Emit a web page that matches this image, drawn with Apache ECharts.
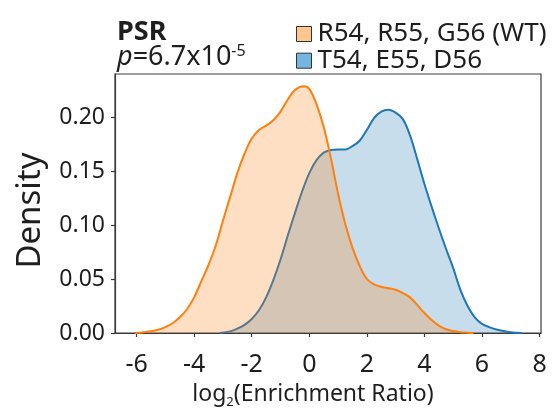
<!DOCTYPE html>
<html>
<head>
<meta charset="utf-8">
<script src="https://cdn.jsdelivr.net/npm/echarts@6/dist/echarts.min.js"></script>
<style>
  html, body { margin: 0; padding: 0; background: #ffffff; }
  #chart { width: 555px; height: 412px; }
</style>
</head>
<body>
<div id="chart"></div>
<script>
// Kernel density estimates of log2 enrichment ratios, two variant groups
const seriesNames = ['R54, R55, G56 (WT)', 'T54, E55, D56'];

const wtX = [-6.05, -5.75, -5.5, -5.25, -5.0, -4.75, -4.5, -4.25, -4.0, -3.75, -3.5, -3.25, -3.0,
  -2.75, -2.5, -2.25, -2.0, -1.75, -1.5, -1.25, -1.0, -0.75, -0.5, -0.18, 0.0, 0.25, 0.5, 0.75,
  1.0, 1.25, 1.5, 1.75, 2.0, 2.25, 2.5, 2.75, 3.0, 3.25, 3.5, 3.75, 4.0, 4.25, 4.5, 4.75, 5.0,
  5.25, 5.5, 5.7];
const wtDensity = [0.0, 0.0008, 0.0016, 0.003, 0.0055, 0.009, 0.0145, 0.022, 0.033, 0.048, 0.063,
  0.081, 0.104, 0.126, 0.148, 0.166, 0.180, 0.188, 0.192, 0.197, 0.205, 0.216, 0.225, 0.2284,
  0.226, 0.212, 0.191, 0.162, 0.129, 0.101, 0.079, 0.062, 0.050, 0.045, 0.0428, 0.0415, 0.040,
  0.037, 0.033, 0.026, 0.0185, 0.012, 0.0068, 0.0035, 0.0018, 0.0008, 0.0003, 0.0];

const mutX = [-3.1, -2.75, -2.5, -2.25, -2.0, -1.75, -1.5, -1.25, -1.0, -0.75, -0.5, -0.25, 0.0,
  0.25, 0.5, 0.75, 1.0, 1.25, 1.5, 1.75, 2.0, 2.25, 2.5, 2.75, 3.0, 3.25, 3.5, 3.75, 4.0, 4.25,
  4.5, 4.75, 5.0, 5.25, 5.5, 5.75, 6.0, 6.25, 6.5, 6.75, 7.0, 7.38];
const mutDensity = [0.0, 0.0015, 0.004, 0.0075, 0.013, 0.021, 0.033, 0.049, 0.068, 0.090, 0.111,
  0.131, 0.148, 0.160, 0.167, 0.1695, 0.170, 0.170, 0.173, 0.178, 0.188, 0.199, 0.205, 0.2068,
  0.204, 0.198, 0.183, 0.161, 0.138, 0.117, 0.097, 0.078, 0.060, 0.040, 0.025, 0.0145, 0.0085,
  0.0055, 0.0033, 0.0018, 0.0008, 0.0];

const xTicks = [-6, -4, -2, 0, 2, 4, 6, 8];
const yTicks = [0, 0.05, 0.10, 0.15, 0.20];

const FONT = 'Noto Sans';
const INK = '#1e1e1e';
const FRAME = '#3a3a3a';
const ORANGE = '#ff7f0e';
const BLUE = '#1f77b4';

const toPairs = (xs, ys) => xs.map((x, i) => [x, ys[i]]);

const chart = echarts.init(document.getElementById('chart'), null, { renderer: 'canvas' });

chart.setOption({
  animation: false,
  backgroundColor: '#ffffff',
  textStyle: { fontFamily: FONT, color: INK },
  title: [
    {
      text: 'PSR',
      left: 117, top: 19, padding: 0,
      textStyle: { fontFamily: FONT, fontWeight: 'bold', fontSize: 27, lineHeight: 26, color: INK }
    },
    {
      text: '{i|p}{n|=6.7x10}{s|-5}',
      left: 117, top: 43, padding: 0,
      textStyle: {
        fontWeight: 'normal',
        rich: {
          i: { fontFamily: FONT, fontStyle: 'italic', fontWeight: 'normal', fontSize: 27, lineHeight: 28, color: INK },
          n: { fontFamily: FONT, fontWeight: 'normal', fontSize: 27, lineHeight: 28, color: INK },
          s: { fontFamily: FONT, fontWeight: 'normal', fontSize: 16, lineHeight: 18, verticalAlign: 'top', color: INK }
        }
      }
    }
  ],
  legend: {
    orient: 'vertical',
    left: 296, top: 21, padding: 0,
    itemWidth: 15, itemHeight: 15, itemGap: 0.7,
    icon: 'rect',
    selectedMode: false,
    textStyle: { fontFamily: FONT, fontSize: 26, lineHeight: 26, color: INK, padding: [0, 0, 0, 1] },
    data: [
      { name: seriesNames[0], itemStyle: { color: '#fdc68f', borderColor: '#333333', borderWidth: 1 } },
      { name: seriesNames[1], itemStyle: { color: '#76b4e2', borderColor: '#333333', borderWidth: 1 } }
    ]
  },
  grid: {
    left: 115, right: 14, top: 74, bottom: 79,
    containLabel: false,
    outerBoundsMode: 'none',
    show: true, borderColor: FRAME, borderWidth: 1.2, backgroundColor: 'transparent'
  },
  xAxis: {
    type: 'value',
    min: -6.75, max: 8.05,
    axisLine: { show: true, onZero: false, lineStyle: { color: FRAME, width: 1.2 } },
    axisTick: { show: true, length: 4, customValues: xTicks, lineStyle: { color: FRAME, width: 1.2 } },
    axisLabel: {
      customValues: xTicks, fontFamily: FONT, fontSize: 25, lineHeight: 26, color: INK, margin: 19,
      formatter: v => (v < 0 ? '-' + Math.abs(v) : String(v))
    },
    splitLine: { show: false },
    name: '{a|log}{b|2}{a|(Enrichment Ratio)}',
    nameLocation: 'middle',
    nameGap: 47,
    nameTextStyle: {
      padding: [0, 30, 0, 0],
      rich: {
        a: { fontFamily: FONT, fontSize: 23, lineHeight: 28, color: INK },
        b: { fontFamily: FONT, fontSize: 13, lineHeight: 13, verticalAlign: 'bottom', color: INK }
      }
    }
  },
  yAxis: {
    type: 'value',
    min: 0, max: 0.2398,
    axisLine: { show: true, onZero: false, lineStyle: { color: FRAME, width: 1.2 } },
    axisTick: { show: true, length: 4, customValues: yTicks, lineStyle: { color: FRAME, width: 1.2 } },
    axisLabel: {
      customValues: yTicks, fontFamily: FONT, fontSize: 23, color: INK, margin: 10,
      formatter: v => v.toFixed(2)
    },
    splitLine: { show: false },
    name: 'Density',
    nameLocation: 'middle',
    nameGap: 67,
    nameRotate: 90,
    nameTextStyle: { fontFamily: FONT, fontSize: 33, lineHeight: 34, color: INK, padding: [0, 14, 0, 0] }
  },
  series: [
    {
      name: seriesNames[1],
      type: 'line',
      z: 2,
      data: toPairs(mutX, mutDensity),
      smooth: 0.35,
      showSymbol: false,
      silent: true,
      color: BLUE,
      lineStyle: { color: BLUE, width: 2 },
      areaStyle: { color: BLUE, opacity: 0.25 }
    },
    {
      name: seriesNames[0],
      type: 'line',
      z: 3,
      data: toPairs(wtX, wtDensity),
      smooth: 0.35,
      showSymbol: false,
      silent: true,
      color: ORANGE,
      lineStyle: { color: ORANGE, width: 2 },
      areaStyle: { color: ORANGE, opacity: 0.25 }
    }
  ]
});
</script>
</body>
</html>
